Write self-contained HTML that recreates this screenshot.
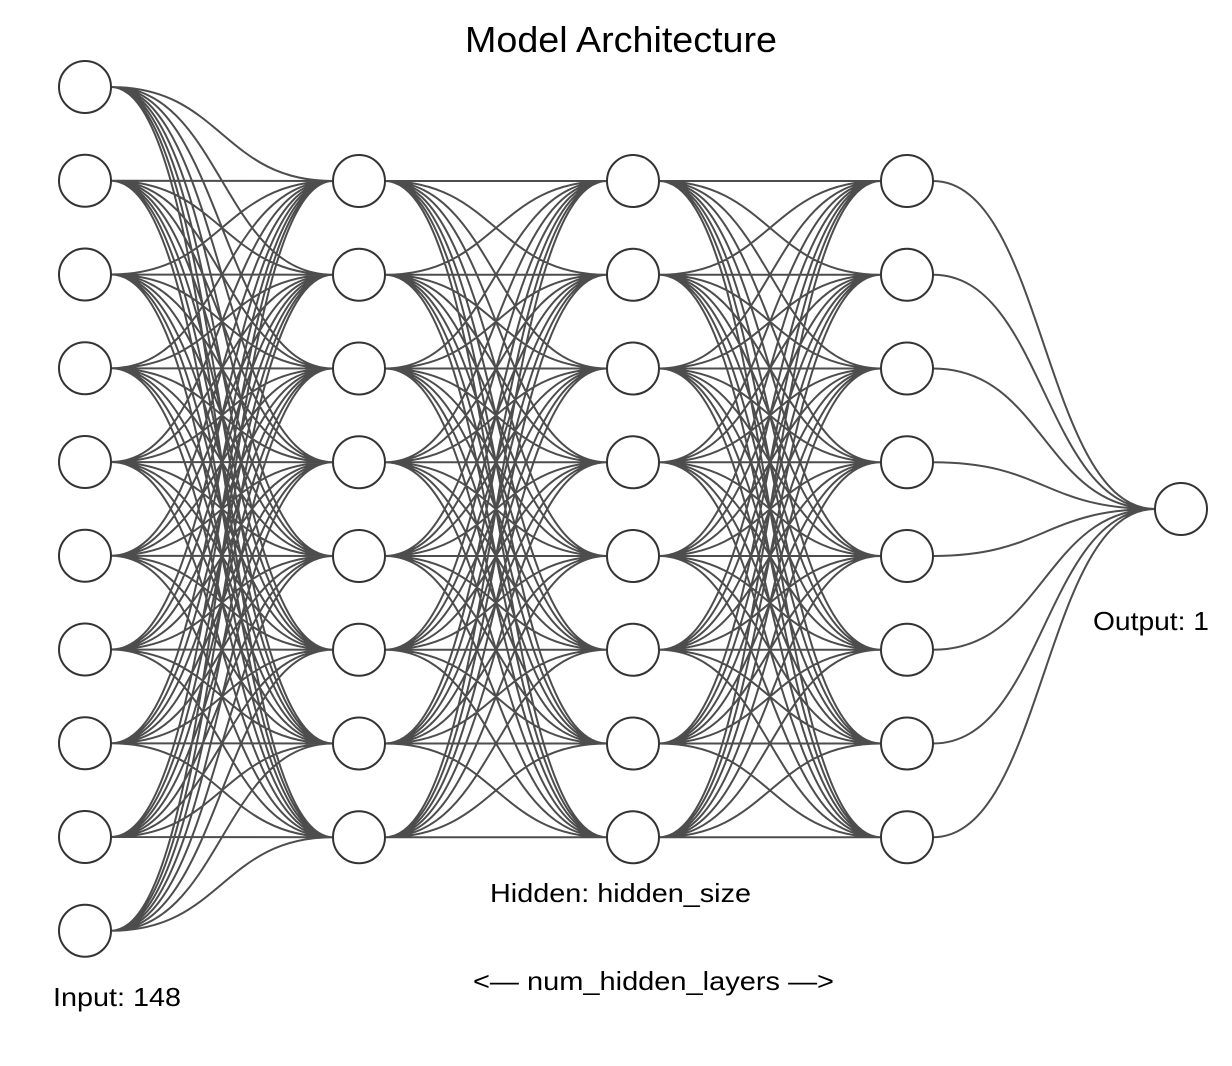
<!DOCTYPE html>
<html><head><meta charset="utf-8"><style>
html,body{margin:0;padding:0;background:#fff;width:1232px;height:1066px;overflow:hidden}
text{font-family:"Liberation Sans",Arial,sans-serif;fill:#000}
</style></head><body>
<svg id="s" width="1232" height="1066" viewBox="0 0 1232 1066" xmlns="http://www.w3.org/2000/svg">
<text x="465" y="52" font-size="36" textLength="312" lengthAdjust="spacingAndGlyphs">Model Architecture</text>
<text x="53" y="1006" font-size="26" textLength="128" lengthAdjust="spacingAndGlyphs">Input: 148</text>
<text x="490" y="902" font-size="26" textLength="261" lengthAdjust="spacingAndGlyphs">Hidden: hidden_size</text>
<text x="473" y="990" font-size="26" textLength="361" lengthAdjust="spacingAndGlyphs">&lt;— num_hidden_layers —&gt;</text>
<text x="1093" y="630" font-size="26" textLength="116" lengthAdjust="spacingAndGlyphs">Output: 1</text>
<g id="e" fill="none" stroke="#4d4d4d" stroke-width="2"></g>
<g id="n" fill="#fff" stroke="#333" stroke-width="2"></g>
</svg>
<script>
var r=26,sp=93.75;
var L=[{x:85,ys:[]},{x:359,ys:[]},{x:633,ys:[]},{x:907,ys:[]},{x:1181,ys:[509]}];
for(var i=0;i<10;i++)L[0].ys.push(87+i*sp);
for(var k=1;k<4;k++)for(var i=0;i<8;i++)L[k].ys.push(181+i*sp);
var e=document.getElementById('e'),n=document.getElementById('n'),ns='http://www.w3.org/2000/svg',d='';
for(var k=0;k<4;k++){var a=L[k],b=L[k+1];var x1=a.x+r,x2=b.x-r,m=(x1+x2)/2;
a.ys.forEach(function(y1){b.ys.forEach(function(y2){d+='M'+x1+' '+y1+'C'+m+' '+y1+' '+m+' '+y2+' '+x2+' '+y2;});});}
var p=document.createElementNS(ns,'path');p.setAttribute('d',d);e.appendChild(p);
L.forEach(function(l){l.ys.forEach(function(y){var c=document.createElementNS(ns,'circle');c.setAttribute('cx',l.x);c.setAttribute('cy',y);c.setAttribute('r',r);n.appendChild(c);});});
</script>
</body></html>
